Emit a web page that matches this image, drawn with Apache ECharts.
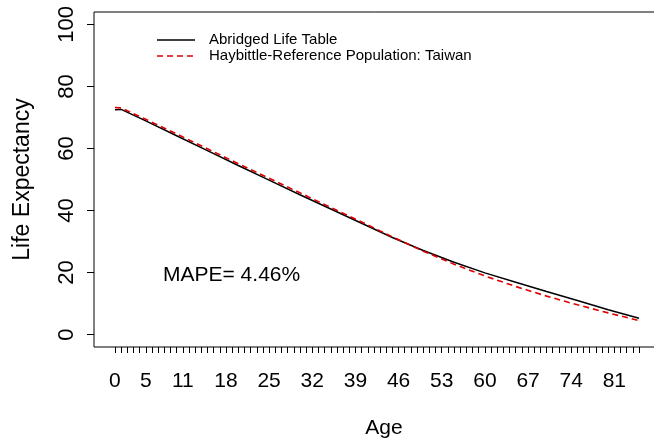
<!DOCTYPE html>
<html>
<head>
<meta charset="utf-8">
<script src="https://cdn.jsdelivr.net/npm/echarts@6/dist/echarts.min.js"></script>
<style>
  html, body { margin: 0; padding: 0; background: #fff; }
  #chart { width: 654px; height: 441px; }
</style>
</head>
<body>
<div id="chart"></div>
<script>
// Abridged age groups (years)
const ages = [0, 1, 5, 10, 15, 20, 25, 30, 35, 40, 45, 50, 55, 60, 65, 70, 75, 80, 85];

// Life expectancy from the abridged life table
const abridged = [72.5, 72.6, 68.9, 64.1, 59.3, 54.5, 49.8, 45.1, 40.5, 35.9,
                  31.3, 27.1, 23.3, 19.9, 16.9, 13.9, 11.0, 8.0, 5.3];

// Life expectancy by the Haybittle method, Taiwan as reference population
const haybittle = [73.2, 73.1, 69.4, 64.7, 59.9, 55.1, 50.4, 45.7, 41.0, 36.3,
                   31.5, 26.9, 22.7, 18.9, 15.5, 12.4, 9.6, 7.0, 4.5];

// Axis ticks and labels
const xTickAges = Array.from({ length: 86 }, (_, i) => i);
const xLabelAges = [0, 5, 11, 18, 25, 32, 39, 46, 53, 60, 67, 74, 81];
const yTicks = [0, 20, 40, 60, 80, 100];

const seriesNames = ['Abridged Life Table', 'Haybittle-Reference Population: Taiwan'];
const mapeText = 'MAPE= 4.46%';

const FONT = '"Liberation Sans", Arial, Helvetica, sans-serif';
const BLACK = '#000000';
const RED = '#e00000';
const DASH = [6, 4];
const toPairs = (xs, ys) => xs.map((x, i) => [x, ys[i]]);

const chart = echarts.init(document.getElementById('chart'), null, { renderer: 'canvas' });

// Legend key drawn as plain line segments with text beside them
const legendRows = [
  { y: 40, color: BLACK, dash: null },
  { y: 56, color: RED, dash: DASH }
];
const legendGraphics = [];
legendRows.forEach((row, i) => {
  legendGraphics.push({
    type: 'line',
    shape: { x1: 157, y1: row.y, x2: 195, y2: row.y },
    style: { stroke: row.color, lineWidth: 1.5, lineDash: row.dash }
  });
  legendGraphics.push({
    type: 'text',
    x: 209, y: row.y,
    style: {
      text: seriesNames[i], font: '15px ' + FONT, fill: BLACK,
      verticalAlign: 'middle', align: 'left'
    }
  });
});

chart.setOption({
  animation: false,
  backgroundColor: '#ffffff',
  textStyle: { fontFamily: FONT, color: BLACK },
  grid: {
    left: 94, right: -6, top: 12, bottom: 94,
    containLabel: false,
    outerBoundsMode: 'none',
    show: true, borderColor: BLACK, borderWidth: 1, backgroundColor: 'transparent'
  },
  xAxis: {
    type: 'value',
    min: -3.4, max: 88.4,
    name: 'Age',
    nameLocation: 'middle',
    nameGap: 71,
    nameTextStyle: { fontSize: 21, fontFamily: FONT, color: BLACK, padding: [0, 0, 0, 14] },
    axisLine: { show: false, onZero: false },
    splitLine: { show: false },
    axisTick: {
      show: true, inside: false, length: 6,
      customValues: xTickAges,
      lineStyle: { color: BLACK, width: 1 }
    },
    axisLabel: {
      customValues: xLabelAges,
      margin: 24,
      fontSize: 21, fontFamily: FONT, color: BLACK
    }
  },
  yAxis: {
    type: 'value',
    min: -4, max: 104,
    name: 'Life Expectancy',
    nameLocation: 'middle',
    nameGap: 60,
    nameRotate: 90,
    nameTextStyle: { fontSize: 23, fontFamily: FONT, color: BLACK },
    axisLine: { show: false, onZero: false },
    splitLine: { show: false },
    axisTick: {
      show: true, inside: false, length: 7,
      customValues: yTicks,
      lineStyle: { color: BLACK, width: 1 }
    },
    axisLabel: {
      customValues: yTicks,
      rotate: 90,
      margin: 16,
      fontSize: 22, fontFamily: FONT, color: BLACK
    }
  },
  graphic: legendGraphics.concat([{
    type: 'text',
    left: 163, top: 265,
    style: { text: mapeText, font: '21px ' + FONT, fill: BLACK }
  }]),
  series: [
    {
      name: seriesNames[0],
      type: 'line',
      data: toPairs(ages, abridged),
      symbol: 'none',
      smooth: false,
      lineStyle: { color: BLACK, width: 1.5, type: 'solid' },
      itemStyle: { color: BLACK },
      z: 2
    },
    {
      name: seriesNames[1],
      type: 'line',
      data: toPairs(ages, haybittle),
      symbol: 'none',
      smooth: false,
      lineStyle: { color: RED, width: 1.6, type: DASH },
      itemStyle: { color: RED },
      z: 3
    }
  ]
});
</script>
</body>
</html>
